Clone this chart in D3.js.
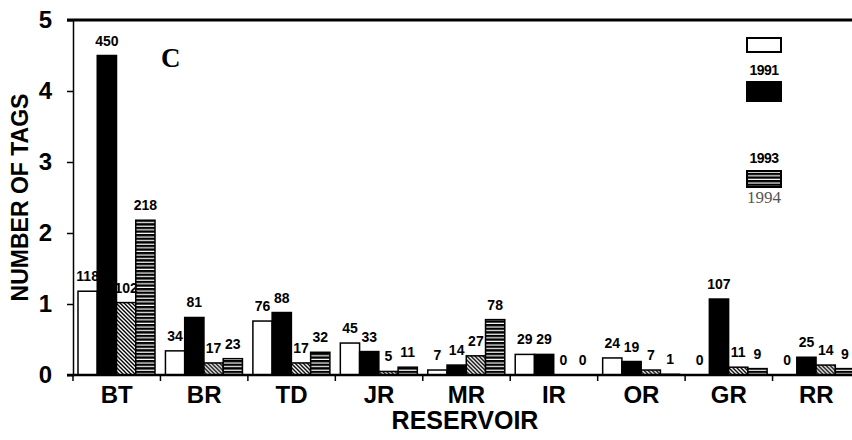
<!DOCTYPE html>
<html>
<head>
<meta charset="utf-8">
<script src="https://cdn.jsdelivr.net/npm/d3@7"></script>
<style>
  body { margin: 0; background: #fff; }
  svg { display: block; }
</style>
</head>
<body>
<div id="chart"></div>
<script>
const reservoirs = ["BT", "BR", "TD", "JR", "MR", "IR", "OR", "GR", "RR"];
const years = ["1991", "1992", "1993", "1994"];
// tags released per reservoir (axis is in hundreds)
const tags1991 = [118, 34, 76, 45, 7, 29, 24, 0, 0];
const tags1992 = [450, 81, 88, 33, 14, 29, 19, 107, 25];
const tags1993 = [102, 17, 17, 5, 27, 0, 7, 11, 14];
const tags1994 = [218, 23, 32, 11, 78, 0, 1, 9, 9];
const yTicks = [0, 1, 2, 3, 4, 5];

const width = 852, height = 440;
const series = [tags1991, tags1992, tags1993, tags1994];

const svg = d3.select("#chart").append("svg")
  .attr("width", width)
  .attr("height", height);

const defs = svg.append("defs");
const hatch = defs.append("pattern")
  .attr("id", "hatch")
  .attr("patternUnits", "userSpaceOnUse")
  .attr("width", 4).attr("height", 4);
hatch.append("rect").attr("width", 4).attr("height", 4).attr("fill", "#fff");
hatch.append("path")
  .attr("d", "M-1,-1L5,5M-1,3L1,5M3,-1L5,1")
  .attr("stroke", "#000").attr("stroke-width", 1.4);

const stripes = defs.append("pattern")
  .attr("id", "stripes")
  .attr("patternUnits", "userSpaceOnUse")
  .attr("width", 4).attr("height", 3.6);
stripes.append("rect").attr("width", 4).attr("height", 3.6).attr("fill", "#fff");
stripes.append("rect").attr("width", 4).attr("height", 2.4).attr("fill", "#000");

const fills = {"1991": "#fff", "1992": "#000", "1993": "url(#hatch)", "1994": "url(#stripes)"};

const x = d3.scaleBand().domain(reservoirs).range([73, 860]);
const xYear = d3.scaleBand().domain(years).range([5, 82]);
const y = d3.scaleLinear().domain([0, 5]).range([375, 20]);

// top frame line
svg.append("line")
  .attr("x1", 67).attr("x2", width)
  .attr("y1", y(5)).attr("y2", y(5))
  .attr("stroke", "#000").attr("stroke-width", 3);

// y axis
const yAxis = svg.append("g")
  .attr("transform", `translate(${x.range()[0]},0)`)
  .call(d3.axisLeft(y).tickValues(yTicks).tickFormat(d3.format("d")).tickSize(6).tickPadding(15));
yAxis.select(".domain").attr("stroke-width", 1.5);
yAxis.selectAll(".tick line").attr("stroke-width", 1.5);
yAxis.selectAll("text")
  .attr("font-family", "Liberation Sans, Arial, sans-serif")
  .attr("font-weight", "bold")
  .attr("font-size", 24)
  .attr("fill", "#000");

svg.append("text")
  .attr("transform", `translate(28,${(y(0) + y(5)) / 2}) rotate(-90)`)
  .attr("text-anchor", "middle")
  .attr("font-family", "Liberation Sans, Arial, sans-serif")
  .attr("font-weight", "bold")
  .attr("font-size", 23)
  .text("NUMBER OF TAGS");

// bars
const groups = svg.append("g").selectAll("g")
  .data(reservoirs)
  .join("g")
  .attr("transform", d => `translate(${x(d)},0)`);

groups.selectAll("rect")
  .data((d, i) => years.map((yr, j) => ({year: yr, value: series[j][i]})))
  .join("rect")
  .attr("x", d => xYear(d.year))
  .attr("width", xYear.bandwidth())
  .attr("y", d => y(d.value / 100))
  .attr("height", d => y(0) - y(d.value / 100))
  .attr("fill", d => fills[d.year])
  .attr("stroke", "#000")
  .attr("stroke-width", d => d.value > 0 ? 1.5 : 0);

groups.selectAll("text")
  .data((d, i) => years.map((yr, j) => ({year: yr, value: series[j][i]})))
  .join("text")
  .attr("x", d => xYear(d.year) + xYear.bandwidth() / 2)
  .attr("y", d => y(d.value / 100) - 10)
  .attr("text-anchor", "middle")
  .attr("font-family", "Liberation Sans Narrow, Arial Narrow, Liberation Sans, sans-serif")
  .attr("font-weight", "bold")
  .attr("font-size", 14)
  .text(d => d.value);

// x axis
const xAxis = svg.append("g")
  .attr("transform", `translate(0,${y(0)})`);
xAxis.append("line")
  .attr("x1", 67).attr("x2", width)
  .attr("stroke", "#000").attr("stroke-width", 2.5);
xAxis.selectAll(".xtick")
  .data(reservoirs)
  .join("line")
  .attr("class", "xtick")
  .attr("x1", d => x(d)).attr("x2", d => x(d))
  .attr("y1", 0).attr("y2", 6)
  .attr("stroke", "#000").attr("stroke-width", 1.5);
xAxis.selectAll(".xlabel")
  .data(reservoirs)
  .join("text")
  .attr("class", "xlabel")
  .attr("x", d => x(d) + x.bandwidth() / 2)
  .attr("y", 28)
  .attr("text-anchor", "middle")
  .attr("font-family", "Liberation Sans, Arial, sans-serif")
  .attr("font-weight", "bold")
  .attr("font-size", 24)
  .text(d => d);

svg.append("text")
  .attr("x", 465).attr("y", 429)
  .attr("text-anchor", "middle")
  .attr("font-family", "Liberation Sans, Arial, sans-serif")
  .attr("font-weight", "bold")
  .attr("font-size", 25)
  .text("RESERVOIR");

// panel letter
svg.append("text")
  .attr("x", 161).attr("y", 67)
  .attr("font-family", "Liberation Serif, Times New Roman, serif")
  .attr("font-weight", "bold")
  .attr("font-size", 27)
  .text("C");

// legend (as printed)
const legend = svg.append("g").attr("transform", "translate(747,0)");
const box = (yy, h, year) => legend.append("rect")
  .attr("x", 0).attr("y", yy).attr("width", 34).attr("height", h)
  .attr("fill", fills[year]).attr("stroke", "#000").attr("stroke-width", 2);
box(38, 14, "1991");
legend.append("text").attr("x", 17).attr("y", 75).attr("text-anchor", "middle")
  .attr("font-family", "Liberation Sans, Arial, sans-serif").attr("font-weight", "bold")
  .attr("font-size", 14).attr("letter-spacing", -0.5).text(years[0]);
box(82, 19, "1992");
legend.append("text").attr("x", 17).attr("y", 163).attr("text-anchor", "middle")
  .attr("font-family", "Liberation Sans, Arial, sans-serif").attr("font-weight", "bold")
  .attr("font-size", 14).attr("letter-spacing", -0.5).text(years[2]);
box(171, 16, "1994");
legend.append("text").attr("x", 17).attr("y", 203).attr("text-anchor", "middle")
  .attr("font-family", "Liberation Serif, Times New Roman, serif")
  .attr("font-size", 17).attr("fill", "#555").text(years[3]);
</script>
</body>
</html>
